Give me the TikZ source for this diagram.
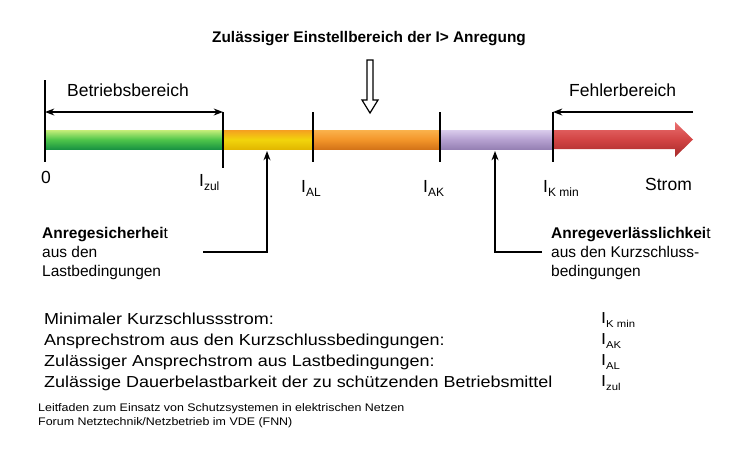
\documentclass[tikz,border=0pt]{standalone}
\usepackage{fontspec}
\setmainfont{Liberation Sans}
\newfontfamily\widefont[FakeStretch=1.13]{Liberation Sans}
\usetikzlibrary{positioning,arrows.meta,calc}
\definecolor{gtop}{HTML}{C6EE7A}
\definecolor{gmid}{HTML}{4FC64A}
\definecolor{gbot}{HTML}{1A9442}
\definecolor{ytop}{HTML}{F5A020}
\definecolor{ymid}{HTML}{F2D40C}
\definecolor{ybot}{HTML}{E2B800}
\definecolor{otop}{HTML}{FAB24C}
\definecolor{omid}{HTML}{F3962A}
\definecolor{obot}{HTML}{D47418}
\definecolor{ptop}{HTML}{DACCEC}
\definecolor{pmid}{HTML}{B6A1D1}
\definecolor{pbot}{HTML}{9681B4}
\definecolor{rtop}{HTML}{EA7070}
\definecolor{rmid}{HTML}{D24444}
\definecolor{rbot}{HTML}{A52A2A}
\newcommand\lowidx[2][11]{\raisebox{-4pt}{\fontsize{#1}{#1}\selectfont #2}}
\tikzset{
  >=Stealth,
  tick/.style={line width=1.8pt},
  pointer/.style={line width=1.4pt},
  big/.style={font=\fontsize{17.5}{20}\selectfont, inner sep=0pt},
  note/.style={font=\fontsize{15.5}{19}\selectfont, align=left, inner sep=0pt},
  listtxt/.style={font=\widefont\fontsize{15.9}{21}\selectfont, align=left, inner sep=0pt},
}

\begin{document}
\begin{tikzpicture}[
  x=1pt,y=-1pt,
  every node/.style={inner sep=0pt},
]
\useasboundingbox (0,0) rectangle (751,456);

% bar
\shade[top color=gtop,bottom color=gbot,middle color=gmid] (45,130) rectangle (223,149);
\shade[top color=ytop,bottom color=ybot,middle color=ymid] (223,130) rectangle (313,149);
\shade[top color=otop,bottom color=obot,middle color=omid] (313,130) rectangle (440,149);
\shade[top color=ptop,bottom color=pbot,middle color=pmid] (440,130) rectangle (553,149);
\shade[top color=rtop,bottom color=rbot,middle color=rmid]
  (553,130) -- (675,130) -- (675,122) -- (693,139.5) -- (675,157) -- (675,149) -- (553,149) -- cycle;

% ticks
\coordinate (t0) at (45,80);    \coordinate (b0) at (45,162);
\coordinate (tzul) at (223,112); \coordinate (bzul) at (223,168);
\coordinate (tal) at (313,112);  \coordinate (bal) at (313,162);
\coordinate (tak) at (440,112);  \coordinate (bak) at (440,162);
\coordinate (tk) at (553,112);   \coordinate (bk) at (553,162);
\foreach \a/\b in {t0/b0,tzul/bzul,tal/bal,tak/bak,tk/bk}
  \draw[tick] (\a) -- (\b);

% ranges
\coordinate (bstart) at (45,112);
\coordinate (fend) at (693,112);
\draw[pointer,<->] (bstart) -- (tzul);
\draw[pointer,->] (fend) -- (tk);
\node[big, anchor=base west] (betrieb) at (67,96) {Betriebsbereich};
\node[big, anchor=base west] (fehler) at (569,96) {Fehlerbereich};

% title and hollow arrow
\node[font=\bfseries\fontsize{15.4}{18}\selectfont, anchor=base] (title) at (369,42.5)
  {Zulässiger Einstellbereich der I> Anregung};
\draw[line width=1.2pt, fill=white]
  (367,60) -- (373,60) -- (373,100) -- (378,100) -- (370,113) -- (362,100) -- (367,100) -- cycle;

% axis labels
\node[big, anchor=base west] (zero) at (41,183) {0};
\node[big, anchor=base west] (izul) at (199,186) {I\lowidx[12]{zul}};
\node[big, anchor=base west] (ial) at (301,192) {I\lowidx[12]{AL}};
\node[big, anchor=base west] (iak) at (423,192) {I\lowidx[12]{AK}};
\node[big, anchor=base west] (ikmin) at (543,192) {I\lowidx[12]{K min}};
\node[big, anchor=base west] (strom) at (645,190) {Strom};

% pointers to the bar
\coordinate (sich) at (267,151);
\coordinate (verl) at (495,151);
\node[note, anchor=north west] (sicher) at (42,227)
  {\textbf{Anregesicherhei}t\\aus den\\Lastbedingungen};
\node[note, anchor=north west] (verlass) at (551,227)
  {\textbf{Anregeverlässlichkei}t\\aus den Kurzschluss-\\bedingungen};
\coordinate (sfoot) at (203,252);
\coordinate (vfoot) at (542,252);
\draw[pointer,->] (sfoot) -- (sfoot -| sich) -- (sich);
\draw[pointer,->] (vfoot) -- (vfoot -| verl) -- (verl);

% legend
\node[listtxt, anchor=north west] (legend) at (44,312.5)
  {Minimaler Kurzschlussstrom:\\
   Ansprechstrom aus den Kurzschlussbedingungen:\\
   Zulässiger Ansprechstrom aus Lastbedingungen:\\
   Zulässige Dauerbelastbarkeit der zu schützenden Betriebsmittel};
\node[listtxt, anchor=north west] (symbols) at (601,312.5)
  {I\lowidx[10]{K min}\\ I\lowidx[10]{AK}\\ I\lowidx[10]{AL}\\ I\lowidx[10]{zul}};

% source
\node[font=\widefont\fontsize{11}{13.5}\selectfont, align=left, anchor=north west] (source) at (38,403.5)
  {Leitfaden zum Einsatz von Schutzsystemen in elektrischen Netzen\\
   Forum Netztechnik/Netzbetrieb im VDE (FNN)};
\end{tikzpicture}
\end{document}
